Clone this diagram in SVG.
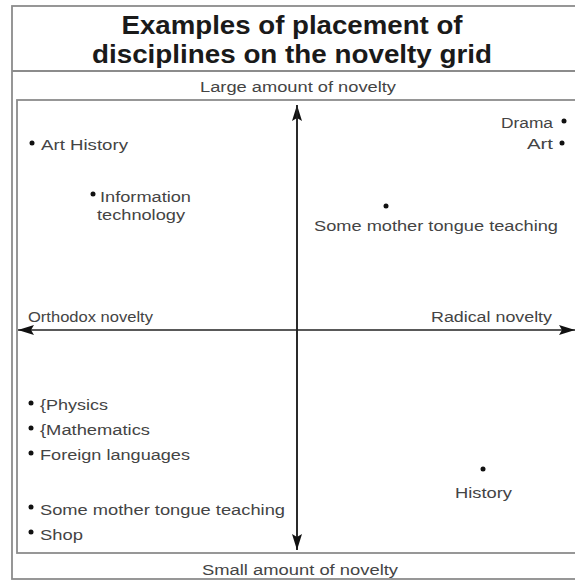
<svg xmlns="http://www.w3.org/2000/svg" width="575" height="581" viewBox="0 0 575 581">
<style>
  .frame{fill:none;stroke:#8c8c8c;stroke-width:1.8}
  .t{font-family:"Liberation Sans",Arial,sans-serif;font-size:15.5px;fill:#444}
  .title{font-family:"Liberation Sans",Arial,sans-serif;font-size:26px;font-weight:bold;fill:#1a1a1a}
  .dot{fill:#111}
  .axis{stroke:#222;stroke-width:1.6;fill:none}
</style>
<defs>
  <marker id="ah" viewBox="0 0 16 10" refX="16" refY="5" markerWidth="16" markerHeight="10" markerUnits="userSpaceOnUse" orient="auto">
    <path d="M0,0 L16,5 L0,10 L3,5 Z" fill="#111"/>
  </marker>
</defs>
<rect width="575" height="581" fill="#fff"/>
<g id="frame">
  <rect class="frame" x="12" y="6" width="600" height="573"/>
  <line class="frame" x1="12" y1="71" x2="575" y2="71"/>
  <rect class="frame" x="17" y="100" width="600" height="453"/>
</g>
<g id="title">
  <text class="title" x="292" y="34" text-anchor="middle" textLength="341" lengthAdjust="spacingAndGlyphs">Examples of placement of</text>
  <text class="title" x="292" y="63" text-anchor="middle" textLength="400" lengthAdjust="spacingAndGlyphs">disciplines on the novelty grid</text>
</g>
<g id="connectors">
  <line class="axis" x1="297" y1="550" x2="297" y2="105" marker-end="url(#ah)"/>
  <line class="axis" x1="297" y1="105" x2="297" y2="550" marker-end="url(#ah)"/>
  <line class="axis" x1="297" y1="330" x2="18" y2="330" marker-end="url(#ah)"/>
  <line class="axis" x1="297" y1="330" x2="575" y2="330" marker-end="url(#ah)"/>
</g>
<g id="axis-labels">
  <text class="t" x="298" y="92" text-anchor="middle" textLength="196" lengthAdjust="spacingAndGlyphs">Large amount of novelty</text>
  <text class="t" x="300" y="575" text-anchor="middle" textLength="196" lengthAdjust="spacingAndGlyphs">Small amount of novelty</text>
  <text class="t" x="28" y="322" textLength="125" lengthAdjust="spacingAndGlyphs">Orthodox novelty</text>
  <text class="t" x="431" y="322" textLength="121" lengthAdjust="spacingAndGlyphs">Radical novelty</text>
</g>
<g id="art-history">
  <circle class="dot" cx="32" cy="143" r="2.5"/>
  <text class="t" x="41" y="150" textLength="87" lengthAdjust="spacingAndGlyphs">Art History</text>
</g>
<g id="information-technology">
  <circle class="dot" cx="93" cy="194" r="2.5"/>
  <text class="t" x="100" y="202" textLength="91" lengthAdjust="spacingAndGlyphs">Information</text>
  <text class="t" x="97" y="220" textLength="88" lengthAdjust="spacingAndGlyphs">technology</text>
</g>
<g id="drama">
  <text class="t" x="553" y="128" text-anchor="end" textLength="52" lengthAdjust="spacingAndGlyphs">Drama</text>
  <circle class="dot" cx="564" cy="121" r="2.5"/>
</g>
<g id="art">
  <text class="t" x="553" y="149" text-anchor="end" textLength="26" lengthAdjust="spacingAndGlyphs">Art</text>
  <circle class="dot" cx="562" cy="143" r="2.5"/>
</g>
<g id="mother-tongue-upper">
  <circle class="dot" cx="386" cy="206" r="2.5"/>
  <text class="t" x="314" y="231" textLength="244" lengthAdjust="spacingAndGlyphs">Some mother tongue teaching</text>
</g>
<g id="physics">
  <circle class="dot" cx="31" cy="403" r="2.5"/>
  <text class="t" x="40" y="410" textLength="68" lengthAdjust="spacingAndGlyphs">{Physics</text>
</g>
<g id="mathematics">
  <circle class="dot" cx="31" cy="428" r="2.5"/>
  <text class="t" x="40" y="435" textLength="110" lengthAdjust="spacingAndGlyphs">{Mathematics</text>
</g>
<g id="foreign-languages">
  <circle class="dot" cx="31" cy="453" r="2.5"/>
  <text class="t" x="40" y="460" textLength="150" lengthAdjust="spacingAndGlyphs">Foreign languages</text>
</g>
<g id="mother-tongue-lower">
  <circle class="dot" cx="31" cy="507" r="2.5"/>
  <text class="t" x="40" y="515" textLength="245" lengthAdjust="spacingAndGlyphs">Some mother tongue teaching</text>
</g>
<g id="shop">
  <circle class="dot" cx="31" cy="532" r="2.5"/>
  <text class="t" x="40" y="540" textLength="43" lengthAdjust="spacingAndGlyphs">Shop</text>
</g>
<g id="history">
  <circle class="dot" cx="483" cy="469" r="2.5"/>
  <text class="t" x="455" y="498" textLength="57" lengthAdjust="spacingAndGlyphs">History</text>
</g>
</svg>
